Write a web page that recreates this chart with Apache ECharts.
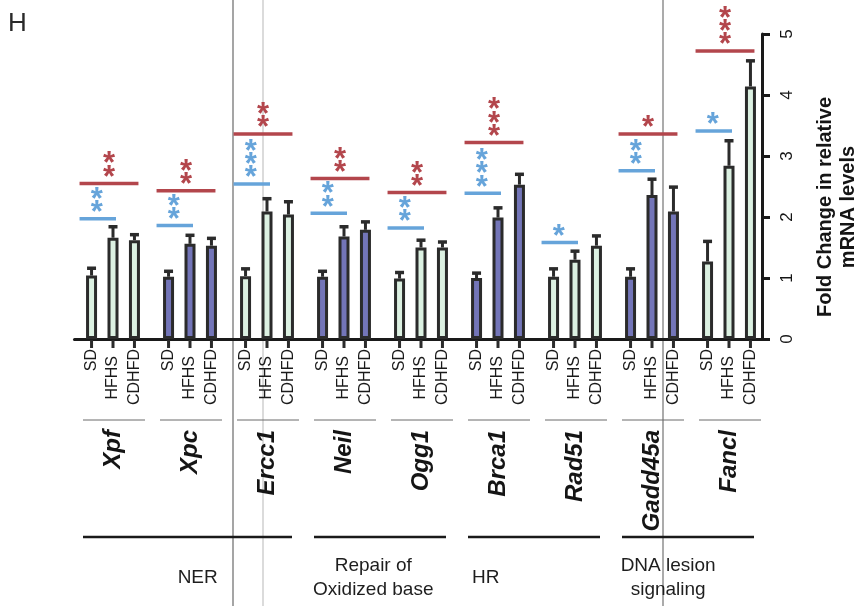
<!DOCTYPE html>
<html>
<head>
<meta charset="utf-8">
<script src="https://cdn.jsdelivr.net/npm/echarts@6/dist/echarts.min.js"></script>
<style>
  html, body { margin: 0; padding: 0; background: #ffffff; }
  #chart { width: 865px; height: 606px; }
</style>
</head>
<body>
<div id="chart"></div>
<script>
// ---------- data ----------
const genes = ['Xpf', 'Xpc', 'Ercc1', 'Neil', 'Ogg1', 'Brca1', 'Rad51', 'Gadd45a', 'Fancl'];
const diets = ['SD', 'HFHS', 'CDHFD'];
const sdMean    = [1.04, 1.02, 1.03, 1.02, 0.99, 1.00, 1.02, 1.02, 1.27];
const sdErr     = [0.12, 0.09, 0.12, 0.09, 0.10, 0.08, 0.13, 0.13, 0.33];
const hfhsMean  = [1.66, 1.56, 2.09, 1.68, 1.50, 1.99, 1.30, 2.36, 2.84];
const hfhsErr   = [0.18, 0.14, 0.21, 0.16, 0.12, 0.16, 0.14, 0.26, 0.41];
const cdhfdMean = [1.62, 1.53, 2.04, 1.79, 1.50, 2.53, 1.53, 2.09, 4.14];
const cdhfdErr  = [0.09, 0.12, 0.21, 0.13, 0.09, 0.17, 0.16, 0.40, 0.42];
// significance: SD vs HFHS (blue) and SD vs CDHFD (red)
const blueSigLevel = [1.97, 1.86, 2.54, 2.06, 1.82, 2.39, 1.58, 2.76, 3.41];
const blueSigStars = [2, 2, 3, 2, 2, 3, 1, 2, 1];
const redSigLevel  = [2.55, 2.43, 3.36, 2.63, 2.40, 3.22, null, 3.36, 4.72];
const redSigStars  = [2, 2, 2, 2, 2, 3, 0, 1, 3];
// pathway grouping of genes
const pathwayNames = ['NER', 'Repair of\nOxidized base', 'HR', 'DNA lesion\nsignaling'];
const pathwayFirst = [0, 3, 5, 7];
const pathwayLast  = [2, 4, 6, 8];
const yTicks = [0, 1, 2, 3, 4, 5];

// ---------- layout / style constants ----------
const FONT = "'Liberation Sans', Arial, Helvetica, sans-serif";
const BAR_W = 11, BAR_GAP = 0.95, STEP = BAR_W * (1 + BAR_GAP);
const GREEN = '#dcf1e2', BLUE = '#7375b8', EDGE = '#2b2b2b';
const SIG_BLUE = '#66a4da', SIG_RED = '#b3464c';
const STAR_SIZE = 31;
const pathwayLabelShift = [1.10, 0.38, -0.16, 0.21]; // in category widths from first gene

const means = [sdMean, hfhsMean, cdhfdMean];
const errs = [sdErr, hfhsErr, cdhfdErr];

const errData = [];
const labelData = [];
for (let j = 0; j < 3; j++) {
  for (let i = 0; i < genes.length; i++) {
    errData.push([i, j, means[j][i], errs[j][i]]);
    labelData.push([i, j, 0]);
  }
}
const sigData = [];
for (let i = 0; i < genes.length; i++) {
  sigData.push([i, blueSigLevel[i], blueSigStars[i], 0]);
  if (redSigLevel[i] != null) sigData.push([i, redSigLevel[i], redSigStars[i], 1]);
}
const pathwayData = pathwayNames.map((n, k) => [pathwayFirst[k], 0, pathwayLast[k], k]);

const barColor = (p) => (p.dataIndex % 2 === 0 ? GREEN : BLUE);

const barSeries = diets.map((d, j) => ({
  name: d,
  type: 'bar',
  data: means[j],
  barWidth: BAR_W,
  barGap: (BAR_GAP * 100) + '%',
  itemStyle: { color: barColor, borderColor: EDGE, borderWidth: 3 },
  emphasis: { disabled: true },
  z: 2
}));

const chart = echarts.init(document.getElementById('chart'), null, { renderer: 'canvas' });

const option = {
  backgroundColor: '#ffffff',
  animation: false,
  grid: { left: 74.5, right: 97.5, top: 34, bottom: 267, containLabel: false },
  xAxis: {
    type: 'category',
    data: genes,
    axisLine: { show: true, lineStyle: { color: '#1a1a1a', width: 3 } },
    axisTick: { show: false },
    axisLabel: {
      rotate: 90, margin: 91, fontSize: 24, fontWeight: 'bold', fontStyle: 'italic',
      color: '#151515', fontFamily: FONT
    },
    splitLine: { show: false }
  },
  yAxis: {
    type: 'value',
    position: 'right',
    offset: -5.5,
    min: yTicks[0],
    max: yTicks[yTicks.length - 1],
    interval: 1,
    axisLine: { show: true, lineStyle: { color: '#1a1a1a', width: 3 } },
    axisTick: { show: true, inside: false, length: 8, lineStyle: { color: '#1a1a1a', width: 3 } },
    axisLabel: { rotate: 90, fontSize: 17, color: '#151515', margin: 17, fontFamily: FONT },
    splitLine: { show: false }
  },
  graphic: [
    { type: 'line', shape: { x1: 233, y1: 0, x2: 233, y2: 606 }, style: { stroke: '#a5a5a5', lineWidth: 2 }, z: -10, silent: true },
    { type: 'line', shape: { x1: 263, y1: 0, x2: 263, y2: 606 }, style: { stroke: '#cfcfcf', lineWidth: 1.5 }, z: -10, silent: true },
    { type: 'line', shape: { x1: 663, y1: 0, x2: 663, y2: 606 }, style: { stroke: '#ababab', lineWidth: 2 }, z: -10, silent: true },
    { type: 'text', left: 8, top: 11, style: { text: 'H', font: '26px ' + FONT, fill: '#2a2a2a' } },
    {
      type: 'text', x: 837, y: 207, rotation: Math.PI / 2,
      style: {
        text: 'Fold Change in relative\nmRNA levels', font: 'bold 20px ' + FONT, fill: '#151515',
        align: 'center', verticalAlign: 'middle', lineHeight: 23
      }
    }
  ],
  series: [
    ...barSeries,
    {
      type: 'custom', name: 'err', data: errData, encode: { x: 0, y: 2 }, z: 3,
      renderItem: (params, api) => {
        const i = api.value(0), j = api.value(1), m = api.value(2), e = api.value(3);
        const p0 = api.coord([i, m]);
        const p1 = api.coord([i, m + e]);
        const x = p0[0] + (j - 1) * STEP;
        return {
          type: 'group', children: [
            { type: 'line', shape: { x1: x, y1: p0[1], x2: x, y2: p1[1] }, style: { stroke: EDGE, lineWidth: 3 } },
            { type: 'line', shape: { x1: x - 4.5, y1: p1[1], x2: x + 4.5, y2: p1[1] }, style: { stroke: EDGE, lineWidth: 3.5 } }
          ]
        };
      }
    },
    {
      type: 'custom', name: 'dietLabels', data: labelData, encode: { x: 0, y: 2 }, z: 3,
      renderItem: (params, api) => {
        const i = api.value(0), j = api.value(1);
        const p = api.coord([i, 0]);
        const x = p[0] + (j - 1) * STEP;
        const y0 = p[1];
        const children = [
          { type: 'line', shape: { x1: x, y1: y0 + 1, x2: x, y2: y0 + 9 }, style: { stroke: EDGE, lineWidth: 3 } },
          {
            type: 'text', x: x, y: y0 + 10 + (j === 1 ? 7 : 0), rotation: Math.PI / 2,
            style: { text: diets[j], font: '16px ' + FONT, fill: '#1a1a1a', align: 'right', verticalAlign: 'middle' }
          }
        ];
        if (j === 0) {
          const cx = p[0];
          children.push({ type: 'line', shape: { x1: cx - 30, y1: y0 + 81, x2: cx + 32, y2: y0 + 81 }, style: { stroke: '#6a6a6a', lineWidth: 1 } });
        }
        return { type: 'group', children };
      }
    },
    {
      type: 'custom', name: 'sig', data: sigData, encode: { x: 0, y: 1 }, z: 4,
      renderItem: (params, api) => {
        const i = api.value(0), lvl = api.value(1), n = api.value(2), kind = api.value(3);
        const p = api.coord([i, lvl]);
        const cx = p[0];
        const x1 = cx - STEP - 12;
        const x2 = kind === 0 ? cx + 3 : cx + STEP + 4;
        const color = kind === 0 ? SIG_BLUE : SIG_RED;
        const sx = (x1 + x2) / 2 - (kind === 0 ? 1 : 0);
        const children = [
          { type: 'line', shape: { x1: x1, y1: p[1], x2: x2, y2: p[1] }, style: { stroke: color, lineWidth: 3.5 } }
        ];
        for (let k = 0; k < n; k++) {
          const yc = p[1] - 12.5 - 13.3 * k;
          children.push({
            type: 'text', x: sx, y: yc + STAR_SIZE * 0.235,
            style: { text: '*', font: 'bold ' + STAR_SIZE + 'px ' + FONT, fill: color, align: 'center', verticalAlign: 'middle' }
          });
        }
        return { type: 'group', children };
      }
    },
    {
      type: 'custom', name: 'pathways', data: pathwayData, encode: { x: 0, y: 1 }, z: 3,
      renderItem: (params, api) => {
        const a = api.coord([api.value(0), 0]);
        const b = api.coord([api.value(2), 0]);
        const k = api.value(3);
        const bw = api.size([1, 0])[0];
        const y0 = a[1];
        return {
          type: 'group', children: [
            { type: 'line', shape: { x1: a[0] - 30, y1: y0 + 198, x2: b[0] + 25, y2: y0 + 198 }, style: { stroke: '#1a1a1a', lineWidth: 2.5 } },
            {
              type: 'text', x: a[0] + pathwayLabelShift[k] * bw, y: y0 + 239,
              style: { text: pathwayNames[k], font: '19px ' + FONT, fill: '#1e1e1e', align: 'center', verticalAlign: 'middle', lineHeight: 24 }
            }
          ]
        };
      }
    }
  ]
};
chart.setOption(option);
</script>
</body>
</html>
